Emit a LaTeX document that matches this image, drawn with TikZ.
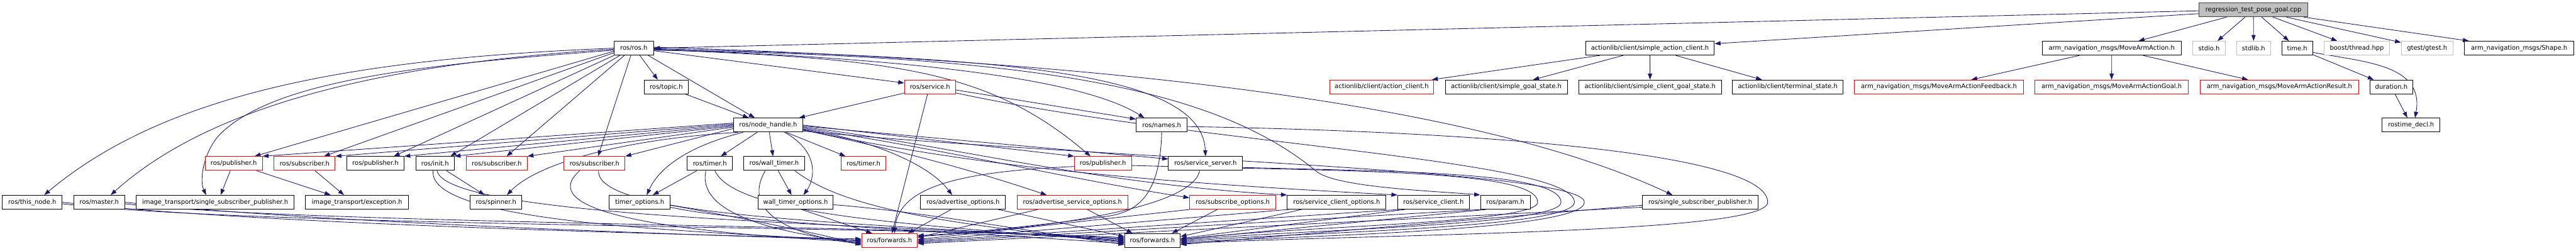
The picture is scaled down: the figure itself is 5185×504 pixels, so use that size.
\documentclass[tikz,border=0pt]{standalone}
\usepackage{fontspec}
\setmainfont{DejaVu Sans}
\usetikzlibrary{calc,arrows.meta}
\pgfdeclarelayer{bg}
\pgfsetlayers{bg,main}
\definecolor{edgec}{HTML}{191970}
\definecolor{grayfill}{HTML}{BFBFBF}
\definecolor{grayline}{HTML}{404040}
\tikzset{
  nd/.style={draw=black, fill=white, line width=0.6pt, minimum height=14pt, inner sep=0pt, text=black, font=\fontsize{6.32}{7.5}\selectfont},
  rd/.style={nd, draw=red},
  gd/.style={nd, draw=grayfill},
  rt/.style={nd, fill=grayfill, draw=grayline},
  ed/.style={draw=edgec, line width=0.55pt, -{Triangle[length=6pt,width=4.2pt]}}
}
\begin{document}
\begin{tikzpicture}[x=0.5pt,y=-0.5pt]
\useasboundingbox (0,0) rectangle (5185,504);
% row 1
\node[rt, minimum width=109.75pt] (root) at (4535.7,19.85) {regression\_test\_pose\_goal.cpp};
% row 2
\node[nd, minimum width=39.5pt] (ros) at (1275.7,97) {ros/ros.h};
\node[nd, minimum width=129.5pt] (sac) at (3321,97) {actionlib/client/simple\_action\_client.h};
\node[nd, minimum width=140.15pt] (mav) at (4250.5,97) {arm\_navigation\_msgs/MoveArmAction.h};
\node[gd, minimum width=32.6pt] (stdio) at (4446.4,97) {stdio.h};
\node[gd, minimum width=34.1pt] (stdlib) at (4536,97) {stdlib.h};
\node[nd, minimum width=31.25pt] (time) at (4623.8,97) {time.h};
\node[gd, minimum width=66.15pt] (boost) at (4743.8,97) {boost/thread.hpp};
\node[gd, minimum width=52pt] (gtest) at (4885.3,97) {gtest/gtest.h};
\node[nd, minimum width=110.2pt] (shape) at (5070.5,97) {arm\_navigation\_msgs/Shape.h};
% row 3
\node[nd, minimum width=44.65pt] (topic) at (1341,175) {ros/topic.h};
\node[rd, minimum width=51.35pt] (service) at (1871.9,175) {ros/service.h};
\node[rd, minimum width=104.7pt] (ac) at (2781,175) {actionlib/client/action\_client.h};
\node[nd, minimum width=122.8pt] (sgs) at (3031.7,175) {actionlib/client/simple\_goal\_state.h};
\node[nd, minimum width=143.5pt] (scgs) at (3321.2,175) {actionlib/client/simple\_client\_goal\_state.h};
\node[nd, minimum width=111.4pt] (ts) at (3598.4,175) {actionlib/client/terminal\_state.h};
\node[rd, minimum width=170.1pt] (fb) at (3902.7,175) {arm\_navigation\_msgs/MoveArmActionFeedback.h};
\node[rd, minimum width=154.7pt] (goal) at (4250.2,175) {arm\_navigation\_msgs/MoveArmActionGoal.h};
\node[rd, minimum width=159.35pt] (result) at (4588,175) {arm\_navigation\_msgs/MoveArmActionResult.h};
\node[nd, minimum width=43.35pt] (dur) at (4813.3,175) {duration.h};
% row 4
\node[nd, minimum width=69.9pt] (nh) at (1546.2,251.7) {ros/node\_handle.h};
\node[nd, minimum width=51.35pt] (names) at (2338.3,251.7) {ros/names.h};
\node[nd, minimum width=58pt] (rtd) at (4853,251.7) {rostime\_decl.h};
% row 5
\node[rd, minimum width=57.5pt] (pub1) at (470.5,329) {ros/publisher.h};
\node[rd, minimum width=61.35pt] (sub1) at (613.1,329) {ros/subscriber.h};
\node[nd, minimum width=57.45pt] (pubb) at (755.7,329) {ros/publisher.h};
\node[nd, minimum width=38.65pt] (init) at (875.7,329) {ros/init.h};
\node[rd, minimum width=61.4pt] (sub2) at (999.8,329) {ros/subscriber.h};
\node[rd, minimum width=61.35pt] (sub3) at (1196.7,329) {ros/subscriber.h};
\node[nd, minimum width=45.3pt] (timerb) at (1428.8,329) {ros/timer.h};
\node[nd, minimum width=60.95pt] (wt) at (1558.2,329) {ros/wall\_timer.h};
\node[rd, minimum width=45.3pt] (timerr) at (1738.2,329) {ros/timer.h};
\node[rd, minimum width=57.35pt] (pub4) at (2219.9,329) {ros/publisher.h};
\node[nd, minimum width=74.55pt] (ss) at (2426.4,329) {ros/service\_server.h};
% row 6
\node[nd, minimum width=60pt] (thisnode) at (65,407) {ros/this\_node.h};
\node[nd, minimum width=51.1pt] (master) at (199.8,407) {ros/master.h};
\node[nd, minimum width=159.35pt] (itssp) at (433,407) {image\_transport/single\_subscriber\_publisher.h};
\node[nd, minimum width=103.35pt] (itex) at (718.5,407) {image\_transport/exception.h};
\node[nd, minimum width=52pt] (spinner) at (998.4,407) {ros/spinner.h};
\node[nd, minimum width=61.4pt] (tmo) at (1287.7,407) {timer\_options.h};
\node[nd, minimum width=75.9pt] (wto) at (1601.3,407) {wall\_timer\_options.h};
\node[nd, minimum width=85.3pt] (ao) at (1938.4,407) {ros/advertise\_options.h};
\node[rd, minimum width=111.4pt] (aso) at (2158.7,407) {ros/advertise\_service\_options.h};
\node[rd, minimum width=86.65pt] (so) at (2481.2,407) {ros/subscribe\_options.h};
\node[nd, minimum width=99.35pt] (sco) at (2690.4,407) {ros/service\_client\_options.h};
\node[nd, minimum width=71.85pt] (sc) at (2885.2,407) {ros/service\_client.h};
\node[nd, minimum width=50.25pt] (param) at (3030.1,407) {ros/param.h};
\node[nd, minimum width=116.05pt] (rssp) at (3422.3,407) {ros/single\_subscriber\_publisher.h};
% row 7
\node[rd, minimum width=56pt] (fwdr) at (1790.4,484) {ros/forwards.h};
\node[nd, minimum width=55.8pt] (fwdb) at (2319.6,484) {ros/forwards.h};

\begin{pgfonlayer}{bg}
% ---- root
\draw[ed] (root.181) -- (ros.east);
\draw[ed] (root.184) -- (sac.4);
\foreach \t in {mav,stdio,stdlib,time,boost,gtest,shape} \draw[ed] (root) -- (\t);
% ---- actionlib / msgs / time
\foreach \t in {ac,sgs,scgs,ts} \draw[ed] (sac) -- (\t);
\foreach \t in {fb,goal,result} \draw[ed] (mav) -- (\t);
\draw[ed] (time) -- (dur);
\draw[ed] (time.-15) .. controls (4760,125) and (4880,130) .. ($(rtd.north)+(8,0)$);
\draw[ed] (dur) -- (rtd);
% ---- ros.h left
\draw[ed] (ros.west) .. controls (700,118) and (330,190) .. ($(thisnode.north)+(24,0)$);
\draw[ed] ($(ros.west)+(0,2)$) .. controls (760,128) and (420,215) .. ($(master.north)+(23,0)$);
\draw[ed] ($(ros.west)+(0,4)$) .. controls (850,130) and (560,160) .. (446,267) .. controls (412,299) and (400,360) .. ($(itssp.north)-(18,0)$);
\draw[ed] ($(ros.west)+(0,6)$) -- ($(pub1.north)+(42,0)$);
\draw[ed] ($(ros.west)+(0,9)$) -- ($(sub1.north)+(39,0)$);
\draw[ed] (ros.south west) -- ($(pubb.north)+(37,0)$);
\draw[ed] ($(ros.south west)+(12,0)$) -- ($(init.north)+(31,0)$);
\draw[ed] ($(ros.south west)+(21,0)$) -- ($(sub2.north)+(20,0)$);
\draw[ed] ($(ros.south)-(6,0)$) -- ($(sub3.north)+(7,0)$);
\draw[ed] ($(ros.south)+(12,0)$) -- ($(topic.north)-(17,0)$);
\draw[ed] ($(ros.south east)-(11,0)$) -- ($(nh.north)-(27,0)$);
% ---- ros.h right
\draw[ed] ($(ros.east)+(0,5)$) -- ($(service.west)+(0,-8)$);
\draw[ed] ($(ros.east)+(0,2)$) .. controls (1850,118) and (2180,160) .. ($(names.north)-(35,0)$);
\draw[ed] ($(ros.east)+(0,1)$) .. controls (2000,115) and (2420,140) .. (ss.north);
\draw[ed] ($(ros.east)+(0,3)$) .. controls (1800,118) and (1990,140) .. ($(pub4.north)-(25,0)$);
\draw[ed] ($(ros.east)+(0,-2)$) .. controls (2300,125) and (3000,220) .. ($(rssp.north)-(56,0)$);
\draw[ed] ($(ros.east)+(0,4)$) .. controls (2100,112) and (2450,180) .. (2650,345) .. controls (2690,378) and (2900,385) .. (param.north west);
% ---- topic / service
\draw[ed] (topic) -- (nh);
\draw[ed] (service) -- (nh);
\draw[ed] ($(service.south)-(5,0)$) -- ($(fwdr.north)+(5,0)$);
\draw[ed] ($(service.east)+(0,6)$) -- ($(names.west)-(0,12)$);
\draw[ed] ($(service.east)+(0,12)$) .. controls (2400,290) and (3169,320) .. (3169,407) .. controls (3169,460) and (2600,468) .. ($(fwdb.east)+(0,2)$);
% ---- node_handle left
\draw[ed] ($(nh.west)+(0,-4)$) -- (pub1.north east);
\draw[ed] ($(nh.west)+(0,-2)$) -- (sub1.north east);
\draw[ed] (nh.west) -- (pubb.north east);
\draw[ed] ($(nh.west)+(0,2)$) -- (init.north east);
\draw[ed] ($(nh.west)+(0,4)$) -- (sub2.north east);
\draw[ed] ($(nh.west)+(0,7)$) -- (sub3.north east);
\draw[ed] ($(nh.south west)+(10,0)$) .. controls (1250,280) and (1080,330) .. ($(spinner.north)+(22,0)$);
\draw[ed] ($(nh.south west)+(20,0)$) .. controls (1400,290) and (1330,330) .. ($(tmo.north)+(14,0)$);
\draw[ed] (nh) -- (timerb);
\draw[ed] (nh) -- (wt);
\draw[ed] (nh) -- (timerr);
\draw[ed] ($(nh.south)+(33,0)$) .. controls (1650,305) and (1640,360) .. ($(wto.north)+(16,0)$);
% ---- node_handle right
\draw[ed] ($(nh.east)+(0,8)$) .. controls (1750,280) and (1870,330) .. ($(ao.north)-(22,0)$);
\draw[ed] (nh.east) -- (pub4.north west);
\draw[ed] ($(nh.east)+(0,2)$) -- ($(ss.west)-(0,9)$);
\draw[ed] ($(nh.east)+(0,10)$) .. controls (1800,300) and (1950,340) .. ($(aso.north)-(52,0)$);
\draw[ed] ($(nh.east)+(0,6)$) .. controls (1900,300) and (2150,360) .. ($(so.west)-(0,9)$);
\draw[ed] ($(nh.east)+(0,4)$) .. controls (1900,290) and (2200,370) .. (sco.north west);
\draw[ed] ($(nh.east)+(0,9)$) .. controls (2000,345) and (2400,370) .. (sc.north west);
\draw[ed] ($(nh.east)+(0,12)$) .. controls (2200,320) and (3189,340) .. (3189,407) .. controls (3189,465) and (2600,475) .. ($(fwdb.east)+(0,4)$);
% ---- row 5 internals
\draw[ed] ($(pub1.south)-(7,0)$) -- ($(itssp.north)+(11,0)$);
\draw[ed] ($(pub1.south east)-(12,0)$) -- ($(itex.north)-(53,0)$);
\draw[ed] ($(sub1.south)+(21,0)$) -- ($(itex.north)-(26,0)$);
\draw[ed] (init) -- (spinner);
\draw[ed] (timerb) -- (tmo);
\draw[ed] (wt) -- (wto);
% ---- to forwards (left group)
\draw[ed] (thisnode.east) .. controls (500,450) and (1300,470) .. ($(fwdr.west)+(0,-3)$);
\draw[ed] ($(thisnode.east)+(0,3)$) .. controls (500,455) and (1750,455) .. ($(fwdb.west)+(0,-6)$);
\draw[ed] (master.east) .. controls (600,445) and (1300,470) .. ($(fwdr.west)+(0,-1)$);
\draw[ed] ($(master.east)+(0,3)$) .. controls (600,450) and (1750,452) .. ($(fwdb.west)+(0,-4)$);
\draw[ed] ($(init.south)-(4,0)$) .. controls (860,450) and (1400,465) .. ($(fwdr.west)+(0,1)$);
\draw[ed] ($(init.south)+(4,0)$) .. controls (900,440) and (1750,450) .. ($(fwdb.west)+(0,-2)$);
\draw[ed] ($(sub3.south)-(30,0)$) .. controls (1080,420) and (1300,465) .. ($(fwdr.west)+(0,3)$);
\draw[ed] ($(sub3.south)+(8,0)$) .. controls (1200,440) and (1750,448) .. (fwdb.west);
\draw[ed] ($(timerb.south)-(8,0)$) .. controls (1400,440) and (1600,472) .. ($(fwdr.west)+(0,5)$);
\draw[ed] ($(timerb.south)+(10,0)$) .. controls (1480,430) and (1800,450) .. ($(fwdb.west)+(0,2)$);
\draw[ed] ($(wt.south)-(18,0)$) .. controls (1490,430) and (1600,475) .. ($(fwdr.west)+(0,7)$);
\draw[ed] ($(wt.south east)-(20,0)$) .. controls (1700,420) and (1900,450) .. ($(fwdb.west)+(0,4)$);
\draw[ed] ($(tmo.east)+(0,6)$) .. controls (1500,440) and (1650,470) .. ($(fwdr.west)+(0,9)$);
\draw[ed] ($(tmo.east)+(0,10)$) .. controls (1500,450) and (1900,465) .. ($(fwdb.west)+(0,6)$);
\draw[ed] ($(wto.south)+(12,0)$) -- ($(fwdr.north)-(35,0)$);
\draw[ed] ($(wto.east)+(0,5)$) .. controls (1850,425) and (2100,470) .. ($(fwdb.west)+(0,8)$);
% ---- to forwards (right group)
\draw[ed] ($(ao.south)-(24,0)$) -- ($(fwdr.north)+(37,0)$);
\draw[ed] ($(ao.south east)-(15,0)$) -- ($(fwdb.west)-(0,8)$);
\draw[ed] ($(aso.south west)+(42,0)$) -- ($(fwdr.east)+(0,-6)$);
\draw[ed] ($(aso.south)+(30,0)$) -- ($(fwdb.north)-(40,0)$);
\draw[ed] ($(so.south)-(31,0)$) -- ($(fwdb.north)+(39,0)$);
\draw[ed] (so.south west) -- ($(fwdr.east)+(0,-2)$);
\draw[ed] ($(sco.south west)+(29,0)$) -- ($(fwdb.east)-(0,8)$);
\draw[ed] ($(sco.south west)+(3,0)$) -- ($(fwdr.east)+(0,0)$);
\draw[ed] ($(sc.south west)+(15,0)$) -- ($(fwdb.east)-(0,4)$);
\draw[ed] ($(sc.south west)+(3,0)$) -- ($(fwdr.east)+(0,2)$);
\draw[ed] ($(param.south west)+(12,0)$) -- ($(fwdb.east)-(0,2)$);
\draw[ed] ($(param.south west)+(2,0)$) -- ($(fwdr.east)+(0,4)$);
\draw[ed] ($(rssp.west)+(0,6)$) -- ($(fwdb.east)+(0,8)$);
\draw[ed] ($(rssp.west)+(0,10)$) -- ($(fwdr.east)+(0,6)$);
\draw[ed] ($(ss.south)-(12,0)$) .. controls (2400,420) and (2100,460) .. ($(fwdr.east)+(0,-8)$);
\draw[ed] ($(ss.east)+(0,8)$) .. controls (2800,345) and (3142,345) .. (3142,407) .. controls (3142,455) and (2600,462) .. (fwdb.east);
\draw[ed] ($(pub4.west)+(0,6)$) .. controls (1950,345) and (1810,370) .. ($(fwdr.north)+(10,0)$);
\draw[ed] ($(pub4.east)+(0,4)$) .. controls (2700,345) and (3095,340) .. (3095,407) .. controls (3095,450) and (2600,455) .. ($(fwdb.east)+(0,-2)$);
\draw[ed] (names.south) .. controls (2335,380) and (2300,425) .. (2230,435) .. controls (2160,445) and (1950,470) .. ($(fwdr.east)+(0,-10)$);
\draw[ed] ($(names.east)+(0,3)$) .. controls (3000,265) and (3558,310) .. (3558,407) .. controls (3558,470) and (2800,470) .. ($(fwdb.east)+(0,6)$);
\end{pgfonlayer}
\end{tikzpicture}
\end{document}
